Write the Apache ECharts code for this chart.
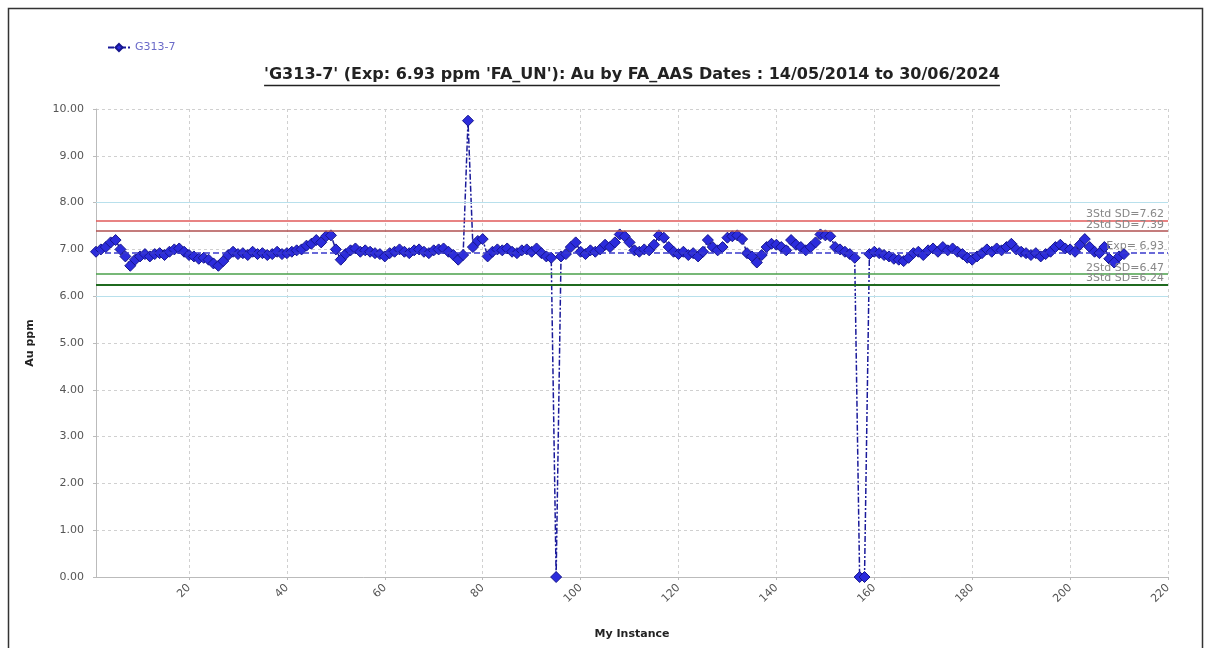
<!DOCTYPE html>
<html>
<head>
<meta charset="utf-8">
<script src="https://cdn.jsdelivr.net/npm/echarts@6/dist/echarts.min.js"></script>
<style>html,body{margin:0;padding:0;background:#fff}#c{width:1210px;height:648px}</style>
</head>
<body>
<div id="c"></div>
<script>
const seriesName = 'G313-7';
const titleText = "'G313-7' (Exp: 6.93 ppm 'FA_UN'): Au by FA_AAS Dates : 14/05/2014 to 30/06/2024";
const xTickValues = [20, 40, 60, 80, 100, 120, 140, 160, 180, 200, 220];
const yTickLabels = ['0.00','1.00','2.00','3.00','4.00','5.00','6.00','7.00','8.00','9.00','10.00'];
const auValues = [
  6.95, 7.00, 7.05, 7.15, 7.20, 7.00, 6.85, 6.65, 6.78, 6.85,
  6.90, 6.85, 6.90, 6.92, 6.88, 6.95, 7.00, 7.02, 6.95, 6.88,
  6.85, 6.80, 6.82, 6.78, 6.70, 6.65, 6.75, 6.88, 6.95, 6.90,
  6.92, 6.88, 6.95, 6.90, 6.92, 6.88, 6.90, 6.95, 6.90, 6.92,
  6.95, 6.98, 7.00, 7.08, 7.12, 7.20, 7.15, 7.28, 7.30, 7.00,
  6.78, 6.90, 6.98, 7.02, 6.95, 6.98, 6.95, 6.92, 6.90, 6.85,
  6.92, 6.95, 7.00, 6.95, 6.92, 6.98, 7.00, 6.95, 6.92, 6.98,
  7.00, 7.02, 6.95, 6.88, 6.78, 6.88, 9.75, 7.05, 7.18, 7.22,
  6.85, 6.95, 7.00, 6.98, 7.02, 6.95, 6.92, 6.98, 7.00, 6.95,
  7.02, 6.92, 6.85, 6.82, 0.00, 6.85, 6.90, 7.05, 7.15, 6.95,
  6.90, 6.98, 6.95, 7.00, 7.10, 7.05, 7.15, 7.32, 7.28, 7.15,
  6.98, 6.95, 7.00, 6.98, 7.10, 7.30, 7.25, 7.05, 6.95, 6.90,
  6.95, 6.88, 6.92, 6.85, 6.95, 7.20, 7.05, 6.98, 7.05, 7.25,
  7.28, 7.30, 7.22, 6.92, 6.85, 6.72, 6.88, 7.05, 7.12, 7.10,
  7.05, 6.98, 7.20, 7.10, 7.05, 6.98, 7.05, 7.15, 7.32, 7.30,
  7.28, 7.05, 7.00, 6.95, 6.90, 6.82, 0.00, 0.00, 6.90, 6.95,
  6.92, 6.88, 6.85, 6.80, 6.78, 6.75, 6.82, 6.92, 6.95, 6.88,
  6.98, 7.02, 6.95, 7.05, 6.98, 7.02, 6.95, 6.90, 6.82, 6.78,
  6.85, 6.92, 7.00, 6.95, 7.02, 6.98, 7.05, 7.12, 7.00, 6.95,
  6.92, 6.88, 6.92, 6.85, 6.90, 6.95, 7.05, 7.10, 7.02, 7.00,
  6.95, 7.10, 7.22, 7.05, 6.95, 6.92, 7.05, 6.80, 6.72, 6.85,
  6.90
];
const refLabels = ['3Std SD=7.62', '2Std SD=7.39', 'Exp= 6.93', '2Std SD=6.47', '3Std SD=6.24'];
const refValues = [7.62, 7.39, 6.93, 6.47, 6.24];
const refColors = ['#e05a5a', '#b05050', '#3a3acc', '#4aa04a', '#1f6a1f'];
const bandValues = [8.0, 6.0];

const points = auValues.map((v, i) => [i + 1, v]);

// title font sized to reference width
const meas = document.createElement('canvas').getContext('2d');
meas.font = 'bold 14px "DejaVu Sans"';
const w14 = meas.measureText(titleText).width;
const titleSize = Math.max(11, Math.min(16, 14 * 849 / w14));
meas.font = 'bold ' + titleSize + 'px "DejaVu Sans"';
const tW = meas.measureText(titleText).width;
const tCx = 632;

const refLines = refValues.map((v, i) => ({
  yAxis: v,
  lineStyle: {
    color: refColors[i],
    width: i === 4 ? 2 : 1.5,
    type: i === 2 ? [6, 3] : 'solid'
  },
  label: { formatter: refLabels[i] }
}));
bandValues.forEach(v => refLines.push({
  yAxis: v,
  lineStyle: { color: '#b8e0ec', width: 1.2, type: 'solid' },
  label: { show: false }
}));

const chart = echarts.init(document.getElementById('c'), null, { renderer: 'canvas' });
chart.setOption({
  animation: false,
  backgroundColor: '#fff',
  textStyle: { fontFamily: '"DejaVu Sans", Verdana, sans-serif' },
  grid: { left: 96, right: 42, top: 109, bottom: 71, containLabel: false },
  legend: {
    left: 102, top: 37,
    itemWidth: 22, itemHeight: 9,
    textStyle: { color: '#6a6ac8', fontSize: 11 },
    data: [seriesName]
  },
  graphic: [
    { type: 'rect', shape: { x: 8.5, y: 8.5, width: 1194, height: 700 }, style: { fill: 'none', stroke: '#333', lineWidth: 1.5 }, silent: true },
    { type: 'text', x: tCx, y: 67, style: { text: titleText, font: 'bold ' + titleSize + 'px "DejaVu Sans"', fill: '#222', textAlign: 'center', textVerticalAlign: 'top' } },
    { type: 'line', shape: { x1: tCx - tW / 2, y1: 85.5, x2: tCx + tW / 2, y2: 85.5 }, style: { stroke: '#222', lineWidth: 1.5 } }
  ],
  xAxis: {
    type: 'value',
    min: 1, max: 220,
    name: 'My Instance',
    nameLocation: 'middle',
    nameGap: 52,
    nameTextStyle: { fontWeight: 'bold', fontSize: 11, color: '#222' },
    axisLine: { show: true, lineStyle: { color: '#bbb' } },
    axisTick: { show: true, customValues: xTickValues, length: 3, lineStyle: { color: '#bbb' } },
    axisLabel: { customValues: xTickValues, rotate: 45, fontSize: 11, color: '#555', margin: 9 },
    splitLine: { show: true, lineStyle: { color: '#d0d0d0', type: [3, 3] } }
  },
  yAxis: {
    type: 'value',
    min: 0, max: 10, interval: 1,
    name: 'Au ppm',
    nameLocation: 'middle',
    nameGap: 60,
    nameTextStyle: { fontWeight: 'bold', fontSize: 11, color: '#222' },
    axisLine: { show: true, lineStyle: { color: '#bbb' } },
    axisTick: { show: true, length: 3, lineStyle: { color: '#bbb' } },
    axisLabel: { fontSize: 11, color: '#555', margin: 12, formatter: (v) => yTickLabels[Math.round(v)] },
    splitLine: { show: true, lineStyle: { color: '#d0d0d0', type: [3, 3] } }
  },
  series: [{
    name: seriesName,
    type: 'line',
    data: points,
    symbol: 'diamond',
    symbolSize: 11,
    showAllSymbol: true,
    clip: true,
    itemStyle: { color: '#2c2cdc', borderColor: '#16168e', borderWidth: 1 },
    lineStyle: { color: '#1a1a9a', width: 1.5, type: [6, 2, 2, 2] },
    markLine: {
      silent: true,
      symbol: 'none',
      animation: false,
      label: { position: 'insideEndTop', color: '#888', fontSize: 11, distance: [4, 1] },
      data: refLines
    },
    z: 3
  }]
});
</script>
</body>
</html>
